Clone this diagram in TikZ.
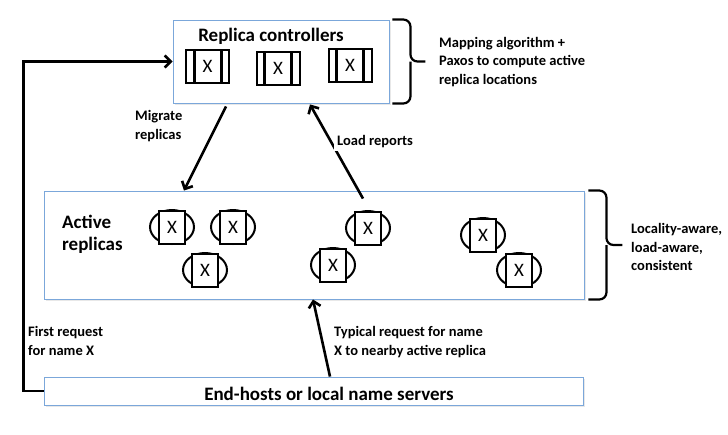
\documentclass[tikz,border=0pt]{standalone}
\usepackage{fontspec}
\setmainfont{Carlito}
\usetikzlibrary{arrows.meta,shapes.geometric,shadows}
\definecolor{panelblue}{HTML}{7BA7DA}
\tikzset{
  panel/.style={draw=panelblue, fill=white, line width=0.9pt,
    drop shadow={opacity=0.18, shadow xshift=1.5pt, shadow yshift=-1.5pt}},
  ctrlbox/.style={draw, line width=2pt, minimum width=43pt, minimum height=33pt,
    inner sep=0pt, font=\fontsize{19}{19}\selectfont,
    path picture={
      \draw[line width=3pt] ([xshift=8pt]path picture bounding box.north west) -- ([xshift=8pt]path picture bounding box.south west);
      \draw[line width=3pt] ([xshift=-8pt]path picture bounding box.north east) -- ([xshift=-8pt]path picture bounding box.south east);}},
  ring/.style={draw, ellipse, line width=2pt, minimum width=44pt, minimum height=34pt, inner sep=0pt},
  replica/.style={draw, fill=white, line width=2pt, minimum width=26pt, minimum height=33pt,
    inner sep=0pt, font=\fontsize{19}{19}\selectfont},
  arr/.style={line width=2.6pt, -{Straight Barb[length=6pt, width=12pt]}},
  curly/.style={line width=2.2pt, rounded corners=7pt},
  note/.style={font=\bfseries\fontsize{14.5}{18.5}\selectfont, align=left, inner sep=1pt},
  big/.style={font=\bfseries\fontsize{19}{22}\selectfont, align=left, inner sep=0pt}
}
\newcommand{\replicaat}[2]{%
  \node[ring] (#1r) at #2 {};
  \node[replica] (#1) at #2 {X};}
\begin{document}
\begin{tikzpicture}[x=1pt, y=-1pt]
\useasboundingbox (0,0) rectangle (728,434);
% panels
\node[panel, minimum width=216pt, minimum height=83pt] (ctrl) at (281,61.5) {};
\node[panel, minimum width=540pt, minimum height=108pt] (act) at (314,245) {};
\node[panel, minimum width=539pt, minimum height=28pt] (hosts) at (313.5,391) {};
\node[big] (ctrltitle) at (271,36) {Replica controllers};
\node[big, anchor=west] (acttitle) at (62,234) {Active\\replicas};
\node[big] (hoststitle) at (329,394) {End-hosts or local name servers};
% controllers
\node[ctrlbox] (c1) at (207.5,66.5) {X};
\node[ctrlbox] (c2) at (278,68) {X};
\node[ctrlbox] (c3) at (350,65) {X};
% active replicas
\replicaat{r1}{(172,227)}
\replicaat{r2}{(233,227)}
\replicaat{r3}{(205,270)}
\replicaat{r4}{(368,228)}
\replicaat{r5}{(333,265)}
\replicaat{r6}{(483,235)}
\replicaat{r7}{(519,270)}
% braces
\draw[curly] ([xshift=3pt]ctrl.north east) -| ([xshift=21pt]ctrl.east) -- ++(15,0);
\draw[curly] ([xshift=3pt]ctrl.south east) -| ([xshift=21pt]ctrl.east);
\draw[curly] ([xshift=4pt]act.north east) -| ([xshift=22pt]act.east) -- ++(16,0);
\draw[curly] ([xshift=4pt]act.south east) -| ([xshift=22pt]act.east);
\node[note, anchor=west] (maptext) at (438,62) {Mapping algorithm +\\Paxos to compute active\\replica locations};
\node[note, anchor=west] (loctext) at (630,247) {Locality-aware,\\load-aware,\\consistent};
% arrows
\draw[arr] ([xshift=-55pt, yshift=-3pt]ctrl.south) -- ([xshift=-130pt]act.north);
\node[note, anchor=west] (migtext) at (134,126) {Migrate\\replicas};
\draw[arr] ([xshift=49pt, yshift=-8pt]act.north) -- ([xshift=29pt, yshift=-1pt]ctrl.south);
\node[note, anchor=west, fill=white, inner sep=3pt] (loadtext) at (334,142) {Load reports};
\draw[arr] ([xshift=16.5pt]hosts.north) -- ([xshift=-1pt]act.south);
\node[note, anchor=west] (typtext) at (333,342) {Typical request for name\\X to nearby active replica};
\draw[arr] (hosts.west) -- ++(-20,0) |- (ctrl.west);
\node[note, anchor=west] (firsttext) at (27,341) {First request\\for name X};
\end{tikzpicture}
\end{document}
